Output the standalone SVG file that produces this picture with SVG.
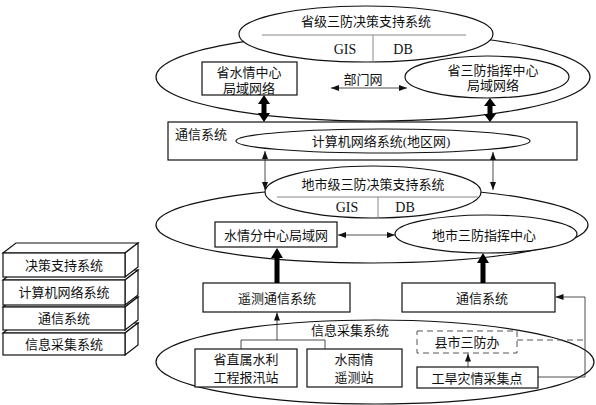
<svg xmlns="http://www.w3.org/2000/svg" width="596" height="405" viewBox="0 0 596 405">
<style>
text{font-family:"Liberation Serif","Noto Sans CJK SC",serif;font-size:13px;fill:#111;text-anchor:middle;dominant-baseline:central}
.l{text-anchor:start}
.lat{font-size:14px}
.s{fill:#fff;stroke:#111;stroke-width:1.2}
.n{fill:none;stroke:#111;stroke-width:1.2}
.g{stroke:#888;stroke-width:1;fill:none}
.c{fill:none;stroke:#222;stroke-width:0.8}
.d{fill:none;stroke:#555;stroke-width:1;stroke-dasharray:6 4}
.t{fill:#000;stroke:none}
</style>
<defs>
<marker id="ah" markerWidth="8" markerHeight="6" refX="8" refY="3" orient="auto-start-reverse" markerUnits="userSpaceOnUse">
<path d="M0,0 L8,3 L0,6 Z" fill="#111"/>
</marker>
</defs>

<g id="province">
<ellipse class="n" cx="373" cy="77" rx="217" ry="44"/>
<g id="prov-dss">
<ellipse class="s" cx="366" cy="34" rx="127" ry="28"/>
<text x="366" y="21">省级三防决策支持系统</text>
<line class="g" x1="262" y1="35" x2="466" y2="35"/>
<line class="g" x1="373" y1="35" x2="373" y2="62"/>
<text class="lat" x="345" y="49">GIS</text>
<text class="lat" x="403" y="49">DB</text>
</g>
<g id="prov-water">
<rect class="s" x="202" y="62" width="95" height="33"/>
<text x="249" y="72">省水情中心</text>
<text x="249" y="88">局域网络</text>
</g>
<g id="prov-command">
<ellipse class="s" cx="487" cy="77" rx="82" ry="21"/>
<text x="493" y="70">省三防指挥中心</text>
<text x="493" y="85">局域网络</text>
</g>
<text x="363" y="79">部门网</text>
</g>

<g id="comm-top">
<rect class="s" x="168" y="122" width="409" height="38"/>
<text class="l" x="175" y="134">通信系统</text>
<g id="network">
<ellipse class="s" cx="383" cy="141" rx="147" ry="12"/>
<text x="381" y="141">计算机网络系统(地区网)</text>
</g>
</g>

<g id="city">
<ellipse class="n" cx="372" cy="225" rx="216" ry="38"/>
<g id="city-dss">
<ellipse class="s" cx="373" cy="192" rx="108" ry="26"/>
<text x="373" y="184">地市级三防决策支持系统</text>
<line class="g" x1="277" y1="197" x2="478" y2="197"/>
<line class="g" x1="378" y1="197" x2="378" y2="218"/>
<text class="lat" x="347" y="207">GIS</text>
<text class="lat" x="405" y="207">DB</text>
</g>
<g id="city-water">
<rect class="s" x="215" y="222" width="122" height="25"/>
<text x="276" y="235">水情分中心局域网</text>
</g>
<g id="city-command">
<ellipse class="s" cx="486" cy="234" rx="91" ry="19"/>
<text x="484" y="235">地市三防指挥中心</text>
</g>
</g>

<g id="telemetry-comm">
<rect class="s" x="203" y="283" width="147" height="29"/>
<text x="277" y="298">遥测通信系统</text>
</g>
<g id="comm-bottom">
<rect class="s" x="402" y="283" width="153" height="29"/>
<text x="482" y="298">通信系统</text>
</g>

<g id="info">
<ellipse class="n" cx="375" cy="362" rx="219" ry="42"/>
<text x="350" y="330">信息采集系统</text>
<g id="station1">
<rect class="s" x="195" y="349" width="102" height="38"/>
<text x="246" y="359">省直属水利</text>
<text x="246" y="377">工程报汛站</text>
</g>
<g id="station2">
<rect class="s" x="307" y="349" width="95" height="38"/>
<text x="354" y="359">水雨情</text>
<text x="354" y="377">遥测站</text>
</g>
<g id="county">
<rect x="417" y="331" width="100" height="22" fill="#fff" stroke="#555" stroke-width="1" stroke-dasharray="6 4"/>
<text x="467" y="342">县市三防办</text>
</g>
<g id="disaster">
<rect class="s" x="417" y="367" width="121" height="21"/>
<text x="477" y="378">工旱灾情采集点</text>
</g>
</g>

<g id="stack">
<g id="layer4">
<polygon class="s" points="3,333 16,323 138,323 125,333"/>
<polygon class="s" points="125,333 138,323 138,345 125,355"/>
<rect class="s" x="3" y="333" width="122" height="22"/>
<text x="64" y="344">信息采集系统</text>
</g>
<g id="layer3">
<polygon class="s" points="3,307 16,297 138,297 125,307"/>
<polygon class="s" points="125,307 138,297 138,320 125,330"/>
<rect class="s" x="3" y="307" width="122" height="23"/>
<text x="64" y="318">通信系统</text>
</g>
<g id="layer2">
<polygon class="s" points="3,280 16,270 138,270 125,280"/>
<polygon class="s" points="125,280 138,270 138,295 125,305"/>
<rect class="s" x="3" y="280" width="122" height="25"/>
<text x="64" y="292">计算机网络系统</text>
</g>
<g id="layer1">
<polygon class="s" points="3,253 16,243 138,243 125,253"/>
<polygon class="s" points="125,253 138,243 138,267 125,277"/>
<rect class="s" x="3" y="253" width="122" height="24"/>
<text x="64" y="265">决策支持系统</text>
</g>
</g>

<g id="connectors">
<line class="c" x1="331" y1="88" x2="407" y2="88" marker-start="url(#ah)" marker-end="url(#ah)"/>
<polygon class="t" points="264,95 270,104 266.5,104 266.5,113 270,113 264,122 258,113 261.5,113 261.5,104 258,104"/>
<polygon class="t" points="490,98 496,106 492.5,106 492.5,114 496,114 490,122 484,114 487.5,114 487.5,106 484,106"/>
<line class="c" x1="265" y1="151" x2="265" y2="190" marker-start="url(#ah)" marker-end="url(#ah)"/>
<line class="c" x1="493" y1="152" x2="493" y2="190" marker-start="url(#ah)" marker-end="url(#ah)"/>
<line class="c" x1="338" y1="235" x2="395" y2="235" marker-start="url(#ah)" marker-end="url(#ah)"/>
<polygon class="t" points="277,248 283,258 279.5,258 279.5,283 274.5,283 274.5,258 271,258"/>
<polygon class="t" points="483,253 489,263 485.5,263 485.5,283 480.5,283 480.5,263 477,263"/>
<line class="c" x1="277" y1="340" x2="277" y2="312.5" marker-end="url(#ah)"/>
<polyline class="c" points="241,349 241,340 325,340 325,349"/>
<line class="c" x1="468" y1="367" x2="468" y2="353.5" marker-end="url(#ah)"/>
<polyline class="c" points="538,377 585,377 585,297 555.5,297" marker-end="url(#ah)"/>
<line class="d" x1="517" y1="340" x2="585" y2="340"/>
</g>
</svg>
